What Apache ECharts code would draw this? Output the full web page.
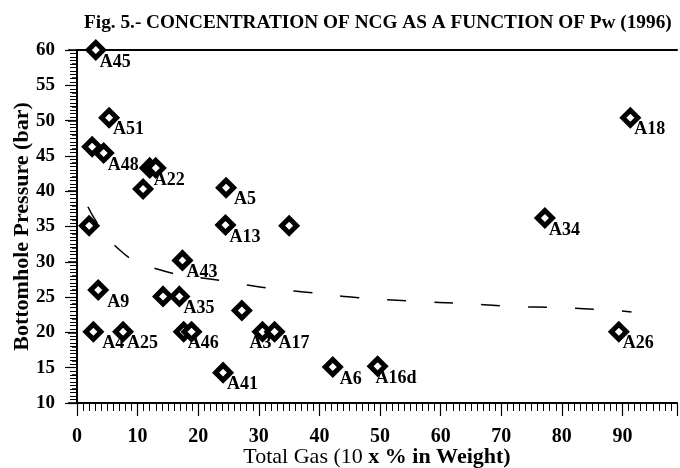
<!DOCTYPE html>
<html>
<head>
<meta charset="utf-8">
<script src="https://cdn.jsdelivr.net/npm/echarts@6/dist/echarts.min.js"></script>
<style>
  html, body { margin: 0; padding: 0; background: #fff; }
  #chart { width: 680px; height: 468px; }
</style>
</head>
<body>
<div id="chart"></div>
<script>
// wells: total gas (x) vs bottomhole pressure (y), '' = no label
const wellNames = ['A45', 'A51', '', 'A48', 'A22', '', '', 'A5', '', 'A13', '',
  'A43', 'A9', '', 'A35', '', 'A4', 'A25', 'A46', '', 'A3', 'A17',
  'A41', 'A6', 'A16d', 'A26', 'A18', 'A34'];
const gasX = [3.1, 5.3, 2.5, 4.4, 12.0, 13.0, 10.9, 24.6, 2.0, 24.5, 35.0,
  17.4, 3.5, 14.2, 16.9, 27.2, 2.7, 7.6, 17.6, 18.9, 30.6, 32.6,
  24.1, 42.2, 49.6, 89.4, 91.3, 77.2];
const pressureY = [60.0, 50.4, 46.3, 45.4, 43.3, 43.3, 40.3, 40.5, 35.1, 35.2, 35.1,
  30.2, 26.0, 25.1, 25.1, 23.1, 20.1, 20.1, 20.1, 20.1, 20.1, 20.1,
  14.3, 15.1, 15.2, 20.1, 50.4, 36.2];

// dashed trend curve
const trendX = [1.8, 7, 13.5, 24, 31.4, 39, 46.5, 56, 63.5, 71.5, 80, 87, 91.5];
const trendY = [37.8, 31.7, 28.9, 27.3, 26.3, 25.6, 24.9, 24.4, 24.1, 23.7, 23.5, 23.2, 22.9];

const xTickMin = 0, xTickMax = 99, xTickStep = 10;
const yTickMin = 10, yTickMax = 60, yTickStep = 5;

// a few labels sit differently from the default
const labelShift = { A3: [-13, 12], A4: [9, 12], A9: [9, 12], A5: [8, 12], A6: [7, 12], A16d: [-2, 12] };

const serif = 'Liberation Serif, Times New Roman, serif';

const chart = echarts.init(document.getElementById('chart'));

const wells = gasX.map((x, i) => {
  const item = { name: wellNames[i], value: [x, pressureY[i]] };
  if (labelShift[wellNames[i]]) item.label = { offset: labelShift[wellNames[i]] };
  return item;
});

const option = {
  backgroundColor: '#fff',
  animation: false,
  title: {
    text: 'Fig. 5.- CONCENTRATION OF NCG AS A FUNCTION OF Pw (1996)',
    left: 79,
    top: 9,
    textStyle: { fontFamily: serif, fontWeight: 'bold', fontSize: 19.3, color: '#000' }
  },
  grid: { left: 77, right: 3, top: 50, bottom: 65, containLabel: false, outerBoundsMode: 'none' },
  xAxis: [{
    type: 'value',
    min: xTickMin,
    max: xTickMax,
    interval: xTickStep,
    name: '{r|Total Gas (10 }{b|x % in Weight)}',
    nameLocation: 'middle',
    nameGap: 43,
    nameMoveOverlap: false,
    nameTextStyle: {
      rich: {
        r: { fontFamily: serif, fontSize: 22, color: '#000' },
        b: { fontFamily: serif, fontSize: 22, fontWeight: 'bold', color: '#000' }
      }
    },
    axisLine: { lineStyle: { color: '#000', width: 2 } },
    axisTick: { length: 13, lineStyle: { color: '#000', width: 1.2 } },
    minorTick: { show: true, splitNumber: 10, length: 8, lineStyle: { color: '#000', width: 1 } },
    axisLabel: {
      margin: 24, showMaxLabel: false,
      fontFamily: serif, fontWeight: 'bold', fontSize: 20, color: '#000'
    },
    splitLine: { show: false }
  }, {
    type: 'value',
    position: 'top',
    min: xTickMin,
    max: xTickMax,
    axisLine: { show: true, lineStyle: { color: '#000', width: 2 } },
    axisTick: { show: false },
    axisLabel: { show: false },
    splitLine: { show: false }
  }],
  yAxis: [{
    type: 'value',
    min: yTickMin,
    max: yTickMax,
    interval: yTickStep,
    name: 'Bottomhole Pressure (bar)',
    nameLocation: 'middle',
    nameGap: 44,
    nameMoveOverlap: false,
    nameTextStyle: { fontFamily: serif, fontWeight: 'bold', fontSize: 22, color: '#000' },
    axisLine: { show: true, lineStyle: { color: '#000', width: 2 } },
    axisTick: { length: 12, lineStyle: { color: '#000', width: 1.2 } },
    minorTick: { show: true, splitNumber: 10, length: 7, lineStyle: { color: '#000', width: 1 } },
    axisLabel: { margin: 22, fontFamily: serif, fontWeight: 'bold', fontSize: 19, color: '#000' },
    splitLine: { show: false }
  }, {
    type: 'value',
    position: 'right',
    min: yTickMin,
    max: yTickMax,
    interval: 10,
    axisLine: { show: true, lineStyle: { color: '#000', width: 1.5 } },
    axisTick: { inside: true, length: 9, lineStyle: { color: '#000', width: 1.5 } },
    minorTick: { show: true, splitNumber: 5, length: 5, lineStyle: { color: '#000', width: 1.5 } },
    axisLabel: { show: false },
    splitLine: { show: false }
  }],
  series: [{
    type: 'line',
    data: trendX.map((x, i) => [x, trendY[i]]),
    smooth: true,
    symbol: 'none',
    lineStyle: { color: '#000', width: 1.5, type: [19, 28] },
    z: 1
  }, {
    type: 'scatter',
    data: wells,
    symbol: 'diamond',
    symbolSize: 15,
    itemStyle: { color: '#fff', borderColor: '#000', borderWidth: 5, opacity: 1 },
    label: {
      show: true,
      position: 'inside',
      align: 'left',
      verticalAlign: 'middle',
      offset: [4, 12],
      formatter: (p) => p.name,
      fontFamily: serif,
      fontWeight: 'bold',
      fontSize: 18,
      color: '#000'
    },
    z: 3
  }]
};

chart.setOption(option);
</script>
</body>
</html>
